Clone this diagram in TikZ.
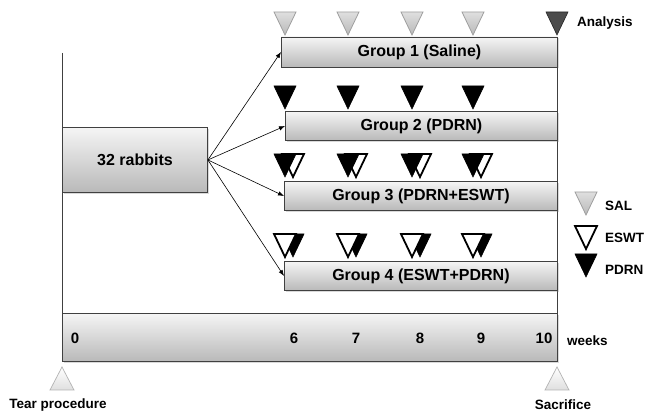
\documentclass[tikz,border=0pt]{standalone}
\usepackage{fontspec}
\setmainfont{Liberation Sans}
\usetikzlibrary{positioning, arrows.meta, shadows}

% down / up triangles: x, y of top edge (down) or apex (up), style
\newcommand{\dtri}[3]{\draw[#3] ({#1-11},#2) -- ({#1+11},#2) -- (#1,{#2+23}) -- cycle;}
\newcommand{\utri}[3]{\draw[#3] (#1,#2) -- ({#1+12},{#2+23}) -- ({#1-12},{#2+23}) -- cycle;}

\tikzset{
  barbox/.style={draw=black!75, line width=0.9pt, top color=gray!8, bottom color=gray!55,
    inner sep=0pt, font=\bfseries\fontsize{16}{18}\selectfont,
    drop shadow={shadow xshift=1.5pt, shadow yshift=-1.5pt, opacity=0.3}},
  lbl/.style={font=\bfseries\fontsize{13.5}{15}\selectfont, inner sep=0pt},
  num/.style={font=\bfseries\fontsize{15}{17}\selectfont, inner sep=0pt},
  sal/.style={draw=gray!75, line width=0.8pt, top color=gray!25, bottom color=gray!55},
  eswt/.style={draw=black, line width=1.8pt, fill=white, line join=miter},
  pdrn/.style={draw=black, line width=0.6pt, fill=black},
  ana/.style={draw=black!85, line width=0.6pt, fill=black!70},
  proc/.style={draw=gray!60, line width=0.7pt, top color=white, bottom color=gray!25},
  axis/.style={draw=black!75, line width=0.9pt},
  arr/.style={-{Latex[length=6pt,width=4.5pt]}, line width=0.6pt}
}

\begin{document}
\begin{tikzpicture}[x=1pt,y=-1pt]
\useasboundingbox (0,0) rectangle (646,414);

% side lines
\draw[axis] (62,53) -- (62,313);
\draw[axis] (557,37) -- (557,313);

% timeline
\node[barbox, anchor=north west, minimum width=495pt, minimum height=48pt] (timeline) at (62,313) {};
\node[num] (w0) at (75,338) {0};
\node[num] (w6) at (294,338) {6};
\node[num] (w7) at (356,338) {7};
\node[num] (w8) at (420,338) {8};
\node[num] (w9) at (481,338) {9};
\node[num] (w10) at (544,338) {10};
\node[lbl, anchor=west] (weeks) at (567,341) {weeks};

% groups
\node[barbox, anchor=west, minimum width=276pt, minimum height=30pt] (g1) at (281,52) {Group 1 (Saline)};
\node[barbox, anchor=west, minimum width=272pt, minimum height=29pt] (g2) at (285,126) {Group 2 (PDRN)};
\node[barbox, anchor=west, minimum width=273pt, minimum height=29pt] (g3) at (284,196) {Group 3 (PDRN+ESWT)};
\node[barbox, anchor=west, minimum width=273pt, minimum height=29pt] (g4) at (284,276) {Group 4 (ESWT+PDRN)};

\node[barbox, anchor=north west, minimum width=145pt, minimum height=65pt] (rabbits) at (62,127) {32 rabbits};

\draw[arr] (rabbits.east) -- (g1.west);
\draw[arr] (rabbits.east) -- (g2.west);
\draw[arr] (rabbits.east) -- (g3.west);
\draw[arr] (rabbits.east) -- (g4.west);

% injections
\foreach \x in {285,348,412,473} {
  \dtri{\x}{12}{sal}
  \dtri{\x}{86}{pdrn}
  \dtri{\x+8}{154}{eswt}
  \dtri{\x}{154}{pdrn}
  \dtri{\x+8}{234}{pdrn}
  \dtri{\x}{234}{eswt}
}
\dtri{557}{12}{ana}
\node[lbl, anchor=west] (analysis) at (577,23) {Analysis};

% legend
\dtri{586}{192}{sal}
\node[lbl, anchor=west] (salt) at (605,206) {SAL};
\dtri{586}{226}{eswt}
\node[lbl, anchor=west] (eswtt) at (605,238) {ESWT};
\dtri{586}{254}{pdrn}
\node[lbl, anchor=west] (pdrnt) at (605,270) {PDRN};

% procedures
\utri{62}{367}{proc}
\node[lbl] (tear) at (58,405) {Tear procedure};
\utri{557}{367}{proc}
\node[lbl] (sacrifice) at (563,405) {Sacrifice};
\end{tikzpicture}
\end{document}
